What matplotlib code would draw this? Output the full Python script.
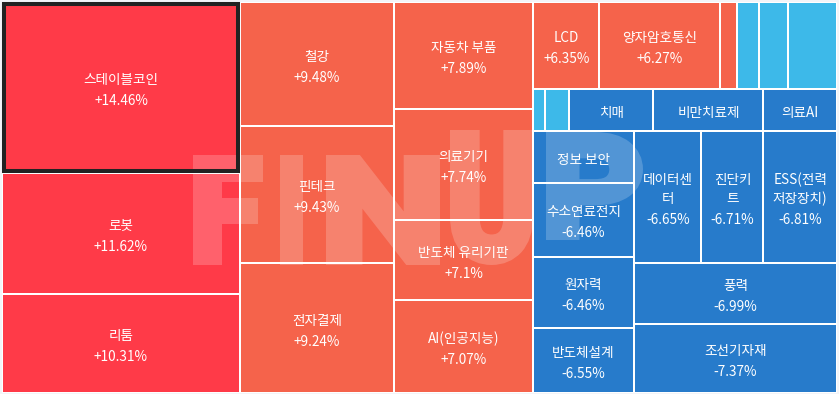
import numpy as np
import matplotlib
matplotlib.use("agg")
import matplotlib.pyplot as plt
from matplotlib.patches import Rectangle, PathPatch
from matplotlib.textpath import TextPath
from matplotlib.font_manager import FontProperties
from matplotlib.transforms import Affine2D

plt.rcParams['font.family'] = ['Noto Sans CJK KR', 'DejaVu Sans']

#------------------------------------------------------
#                   Treemap data
#------------------------------------------------------
names = ["스테이블코인", "로봇", "리툼",
         "철강", "핀테크", "전자결제",
         "자동차 부품", "의료기기", "반도체 유리기판", "AI(인공지능)",
         "LCD", "양자암호통신", "", "", "", "",
         "", "", "치매", "비만치료제", "의료AI",
         "정보 보안", "수소연료전지", "원자력", "반도체설계",
         "데이터센\n터", "진단키\n트", "ESS(전력\n저장장치)", "풍력", "조선기자재"]
changes = [14.46, 11.62, 10.31,
           9.48, 9.43, 9.24,
           7.89, 7.74, 7.1, 7.07,
           6.35, 6.27, None, None, None, None,
           None, None, None, None, None,
           None, -6.46, -6.46, -6.55,
           -6.65, -6.71, -6.81, -6.99, -7.37]
sizes = [40698, 28798, 23562,
         19096, 21098, 20020,
         14873, 15429, 11120, 12927,
         5786, 10484, 1479, 1958, 2523, 4220,
         525, 987, 3549, 4620, 3087,
         5202, 7525, 7171, 6565,
         8910, 8184, 9702, 12383, 14007]
tones = ["up2"] * 3 + ["up1"] * 10 + ["dn1"] * 5 + ["dn2"] * 12
tone_colors = {"up2": "#ff3a48", "up1": "#f5634b", "dn1": "#3db9e9", "dn2": "#277bcb"}

# grouping of the leaves (alternating horizontal / vertical splits)
groups = [[0, 1, 2], [3, 4, 5], [6, 7, 8, 9],
          [[10, 11, 12, 13, 14, 15], [16, 17, 18, 19, 20],
           [[21, 22, 23, 24], [[25, 26, 27], 28, 29]]]]


def weight(node):
    if isinstance(node, int):
        return sizes[node]
    return sum(weight(c) for c in node)


def split(node, x, y, w, h, horiz, out):
    if isinstance(node, int):
        out[node] = (x, y, w, h)
        return
    total = weight(node)
    for c in node:
        f = weight(c) / total
        if horiz:
            split(c, x, y, w * f, h, not horiz, out)
            x += w * f
        else:
            split(c, x, y, w, h * f, not horiz, out)
            y += h * f


W, H = 839, 394
x0, y0, x1, y1 = 2, 2, 837, 393
rects = {}
split(groups, x0, y0, x1 - x0, y1 - y0, True, rects)

fig = plt.figure(figsize=(W / 100, H / 100), dpi=100, facecolor="#f3f4f8")
ax = fig.add_axes([0, 0, 1, 1])

ax.add_patch(Rectangle((x0, y0), x1 - x0, y1 - y0, facecolor="white", lw=0, zorder=0))

for i, (x, y, w, h) in rects.items():
    ax.add_patch(Rectangle((x + 1, y + 1), w - 2, h - 2,
                           facecolor=tone_colors[tones[i]], lw=0, zorder=1))
    lines = names[i].split("\n") if names[i] else []
    if not lines:
        continue
    pos = [19 * k for k in range(len(lines))]
    if changes[i] is not None:
        lines.append(f"{changes[i]:+g}%")
        pos.append(pos[-1] + 21)
    cy = y + h / 2 + 3 - (pos[0] + pos[-1]) / 2
    for txt, p in zip(lines, pos):
        ax.text(x + w / 2, cy + p, txt, color="white", fontsize=9.8,
                ha="center", va="center", zorder=3)

# highlight of the top tile
bx, by, bw, bh = rects[0]
ax.add_patch(Rectangle((bx + 2, by + 2), bw - 4, bh - 4, fill=False,
                       edgecolor="#222222", lw=2.9, zorder=4))

# FINUP watermark: heavy letters drawn into a mask, laid on with one alpha
fp = FontProperties(family="Roboto", weight="bold")
marks = [("F", 193, 263, 155, 265), ("I", 280, 303, 155, 265),
         ("N", 326, 440, 155, 265), ("U", 450, 533, 130, 265),
         ("P", 546, 643, 132, 240)]
grow = 5
mfig = plt.figure(figsize=(W / 100, H / 100), dpi=100, facecolor="white")
max_ = mfig.add_axes([0, 0, 1, 1])
max_.set_xlim(0, W)
max_.set_ylim(H, 0)
max_.axis("off")
for ch, lx0, lx1, top, bot in marks:
    tp = TextPath((0, 0), ch, size=100, prop=fp)
    bb = tp.get_extents()
    sx = (lx1 - lx0 - 2 * grow) / bb.width
    sy = (bot - top - 2 * grow) / bb.height
    tr = Affine2D().translate(-bb.x0, -bb.y0).scale(sx, -sy).translate(lx0 + grow, bot - grow)
    max_.add_patch(PathPatch(tr.transform_path(tp), facecolor="black",
                             edgecolor="black", lw=2 * grow * 0.72, joinstyle="miter"))
mfig.canvas.draw()
mask = 1 - np.asarray(mfig.canvas.buffer_rgba())[:, :, 0] / 255.0
plt.close(mfig)
wm = np.ones((mask.shape[0], mask.shape[1], 4))
wm[..., 3] = mask * 0.2
ax.imshow(wm, extent=(0, W, H, 0), zorder=2, interpolation="nearest", aspect="auto")

ax.set_xlim(0, W)
ax.set_ylim(H, 0)
ax.axis("off")

fig.savefig("out.png", dpi=100, facecolor=fig.get_facecolor())
